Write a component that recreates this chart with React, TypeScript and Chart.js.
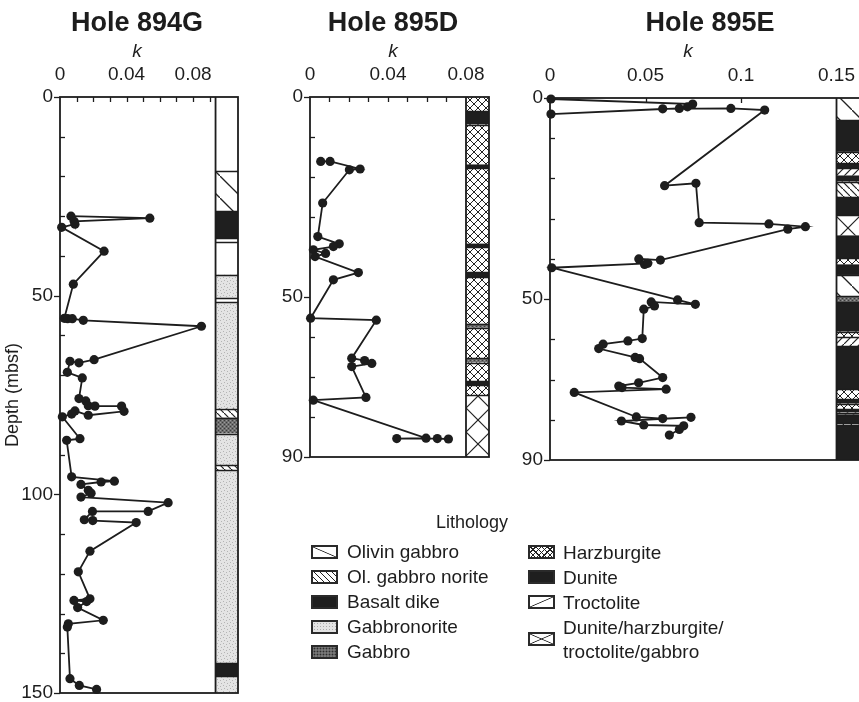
import React, { useEffect, useRef } from 'react';
import { Chart, registerables } from 'chart.js';
Chart.register(...registerables);

const FONT = "'Liberation Sans', Arial, Helvetica, sans-serif";
const INK = '#1d1d1d';

type Interval = [number, number, string];

// ---------- Hole 894G ----------
const depth894G = [30.0, 30.5, 31.3, 32.0, 32.8, 38.8, 47.1, 55.7, 55.8, 55.8, 56.2, 57.7, 66.1, 66.9, 66.5, 69.3, 70.7, 75.9, 76.5, 77.7, 77.8, 77.8, 79.1, 80.1, 79.0, 79.8, 80.5, 86.0, 86.4, 95.6, 96.7, 96.9, 97.5, 99.0, 99.7, 100.7, 102.1, 104.3, 104.3, 106.4, 106.6, 107.1, 114.3, 119.5, 126.3, 126.7, 127.0, 128.5, 131.7, 132.6, 133.4, 146.4, 148.1, 149.1];
const k894G = [0.0066, 0.054, 0.0085, 0.009, 0.001, 0.0265, 0.008, 0.0026, 0.0046, 0.0074, 0.014, 0.085, 0.0205, 0.0114, 0.006, 0.0044, 0.0134, 0.0114, 0.0155, 0.017, 0.021, 0.037, 0.0385, 0.017, 0.009, 0.007, 0.0014, 0.012, 0.004, 0.007, 0.0327, 0.0247, 0.0126, 0.017, 0.0187, 0.0126, 0.065, 0.053, 0.0195, 0.0146, 0.0197, 0.0458, 0.018, 0.011, 0.018, 0.0084, 0.016, 0.0106, 0.026, 0.005, 0.0044, 0.006, 0.0116, 0.022];
const litho894G: Interval[] = [
  [0, 18.6, 'none'], [18.6, 28.7, 'olivinGabbro'], [28.7, 35.6, 'basalt'], [35.6, 36.5, 'none'],
  [36.5, 44.7, 'none'], [44.7, 50.6, 'gabbronorite'], [50.6, 51.6, 'none'], [51.6, 78.4, 'gabbronorite'],
  [78.4, 80.7, 'olGabbroNorite'], [80.7, 84.7, 'gabbro'], [84.7, 92.7, 'gabbronorite'], [92.7, 94.0, 'olGabbroNorite'],
  [94.0, 142.5, 'gabbronorite'], [142.5, 145.8, 'basalt'], [145.8, 150, 'gabbronorite'],
];
const xLabels894G = [0, 0.04, 0.08];
const yLabels894G = [0, 50, 100, 150];

// ---------- Hole 895D ----------
const depth895D = [16.1, 16.1, 18.0, 18.2, 26.5, 34.9, 36.7, 37.4, 38.2, 39.1, 39.9, 43.9, 45.7, 55.3, 55.8, 65.3, 65.9, 66.6, 67.4, 75.1, 75.8, 85.3, 85.4, 85.4, 85.5];
const k895D = [0.0055, 0.0103, 0.0257, 0.0202, 0.0065, 0.004, 0.015, 0.012, 0.0017, 0.008, 0.0026, 0.0248, 0.012, 0.0003, 0.034, 0.0214, 0.028, 0.0317, 0.0214, 0.0287, 0.0017, 0.0595, 0.0445, 0.0653, 0.071];
const litho895D: Interval[] = [
  [0, 3.6, 'harzburgite'], [3.6, 6.9, 'dunite'], [6.9, 16.9, 'harzburgite'], [16.9, 17.8, 'dunite'],
  [17.8, 36.7, 'harzburgite'], [36.7, 37.6, 'dunite'], [37.6, 43.8, 'harzburgite'], [43.8, 45.0, 'dunite'],
  [45.0, 56.7, 'harzburgite'], [56.7, 57.7, 'gabbro'], [57.7, 65.3, 'harzburgite'], [65.3, 66.4, 'gabbro'],
  [66.4, 71.0, 'harzburgite'], [71.0, 72.0, 'dunite'], [72.0, 74.5, 'harzburgite'], [74.5, 90, 'mixed'],
];
const xLabels895D = [0, 0.04, 0.08];
const yLabels895D = [0, 50, 90];

// ---------- Hole 895E ----------
const depth895E = [0.25, 1.5, 2.2, 2.6, 4.0, 2.7, 2.6, 3.0, 21.8, 21.2, 31.0, 31.3, 32.0, 32.6, 40.3, 40.0, 41.4, 41.1, 42.2, 50.2, 51.3, 50.7, 51.7, 52.5, 59.8, 60.4, 61.2, 62.3, 64.5, 64.8, 69.5, 70.8, 71.6, 72.0, 72.4, 73.2, 79.3, 79.7, 79.4, 80.3, 81.3, 81.5, 82.4, 83.8];
const k895E = [0.0005, 0.0747, 0.072, 0.0677, 0.0005, 0.059, 0.0947, 0.1124, 0.060, 0.0764, 0.0781, 0.1146, 0.1337, 0.1245, 0.0578, 0.0465, 0.0495, 0.0512, 0.0009, 0.0668, 0.0761, 0.053, 0.0547, 0.0491, 0.0483, 0.0408, 0.0278, 0.0255, 0.0446, 0.0469, 0.059, 0.0464, 0.036, 0.0377, 0.0608, 0.0127, 0.0452, 0.059, 0.0738, 0.0374, 0.0491, 0.070, 0.0677, 0.0625];
const litho895E: Interval[] = [
  [0, 5.5, 'olivinGabbro'], [5.5, 13.4, 'dunite'], [13.4, 16.2, 'harzburgite'], [16.2, 17.5, 'dunite'],
  [17.5, 19.3, 'troctolite'], [19.3, 20.8, 'dunite'], [20.8, 24.6, 'olGabbroNorite'], [24.6, 29.2, 'dunite'],
  [29.2, 34.2, 'mixed'], [34.2, 39.9, 'dunite'], [39.9, 41.4, 'harzburgite'], [41.4, 44.0, 'dunite'],
  [44.0, 49.3, 'olivinGabbro'], [49.3, 50.7, 'gabbro'], [50.7, 58.1, 'dunite'], [58.1, 59.4, 'harzburgite'],
  [59.4, 61.7, 'troctolite'], [61.7, 72.4, 'dunite'], [72.4, 74.9, 'harzburgite'], [74.9, 76.0, 'dunite'],
  [76.0, 77.4, 'harzburgite'], [77.4, 78.2, 'dunite'], [78.2, 78.7, 'troctolite'], [78.7, 80.9, 'dunite'],
  [80.9, 81.4, 'troctolite'], [81.4, 90, 'dunite'],
];
const xLabels895E = [0, 0.05, 0.1, 0.15];
const yLabels895E = [0, 50, 90];

// ---------- Legend ----------
const legendLeft: [string, string][] = [
  ['Olivin gabbro', 'olivinGabbro'], ['Ol. gabbro norite', 'olGabbroNorite'], ['Basalt dike', 'basalt'],
  ['Gabbronorite', 'gabbronorite'], ['Gabbro', 'gabbro'],
];
const legendRight: [string, string][] = [
  ['Harzburgite', 'harzburgite'], ['Dunite', 'dunite'], ['Troctolite', 'troctolite'],
  ['Dunite/harzburgite/\ntroctolite/gabbro', 'mixed'],
];

// ---------- patterns ----------
function tile(size: number, bg: string, draw: (g: CanvasRenderingContext2D, s: number) => void) {
  const c = document.createElement('canvas');
  c.width = size; c.height = size;
  const g = c.getContext('2d')!;
  g.fillStyle = bg; g.fillRect(0, 0, size, size);
  g.strokeStyle = '#222'; g.fillStyle = '#222';
  draw(g, size);
  return c;
}
function back(g: CanvasRenderingContext2D, s: number, w: number) {
  g.lineWidth = w; g.beginPath(); g.moveTo(-2, -2); g.lineTo(s + 2, s + 2); g.stroke();
}
function fwd(g: CanvasRenderingContext2D, s: number, w: number) {
  g.lineWidth = w; g.beginPath(); g.moveTo(-2, s + 2); g.lineTo(s + 2, -2); g.stroke();
}
function dots(g: CanvasRenderingContext2D, col: string, pts: number[][]) {
  g.fillStyle = col; pts.forEach(([x, y]) => g.fillRect(x, y, 1, 1));
}
const patternCache = new Map<string, any>();
function fillFor(ctx: CanvasRenderingContext2D, type: string): any {
  if (type === 'none') return '#ffffff';
  if (type === 'basalt' || type === 'dunite') return '#1f1f1f';
  if (patternCache.has(type)) return patternCache.get(type);
  let c: HTMLCanvasElement;
  switch (type) {
    case 'olivinGabbro': c = tile(22, '#fff', (g, s) => back(g, s, 1.3)); break;
    case 'olGabbroNorite': c = tile(7, '#fff', (g, s) => back(g, s, 1.2)); break;
    case 'troctolite': c = tile(8, '#fff', (g, s) => fwd(g, s, 1.2)); break;
    case 'harzburgite': c = tile(8, '#fff', (g, s) => { back(g, s, 1); fwd(g, s, 1); }); break;
    case 'mixed': c = tile(24, '#fff', (g, s) => { back(g, s, 1.2); fwd(g, s, 1.2); }); break;
    case 'gabbronorite': c = tile(6, '#e4e4e4', (g) => dots(g, '#b5b5b5', [[1, 1], [4, 2], [2, 4], [5, 5]])); break;
    default: c = tile(4, '#6e6e6e', (g) => { dots(g, '#3c3c3c', [[0, 0], [2, 2]]); dots(g, '#9a9a9a', [[2, 0], [0, 2]]); });
  }
  const p = ctx.createPattern(c, 'repeat');
  patternCache.set(type, p);
  return p;
}

const swatchBg: Record<string, string> = {
  olivinGabbro: 'linear-gradient(to top right, #fff calc(50% - 0.8px), #222 50%, #fff calc(50% + 0.8px))',
  olGabbroNorite: 'repeating-linear-gradient(45deg, #fff 0 3px, #222 3px 4.2px)',
  basalt: '#1f1f1f',
  gabbronorite: 'radial-gradient(circle, #aaa 0.7px, transparent 1px) 0 0/3px 3px, #e2e2e2',
  gabbro: 'radial-gradient(circle, #2e2e2e 0.8px, transparent 1.1px) 0 0/3px 3px, #777',
  harzburgite: 'repeating-linear-gradient(45deg, transparent 0 3px, #222 3px 4px), repeating-linear-gradient(-45deg, #fff 0 3px, #222 3px 4px)',
  dunite: '#1f1f1f',
  troctolite: 'linear-gradient(to bottom right, #fff calc(50% - 0.8px), #222 50%, #fff calc(50% + 0.8px))',
  mixed: 'linear-gradient(to top right, transparent calc(50% - 0.8px), #222 50%, transparent calc(50% + 0.8px)), linear-gradient(to bottom right, #fff calc(50% - 0.8px), #222 50%, #fff calc(50% + 0.8px))',
};

// ---------- chart ----------
type Spec = {
  depth: number[]; k: number[]; litho: Interval[]; xLabels: number[]; yLabels: number[];
  xMax: number; yMax: number; xStep: number; colStart: number;
  left: number; w: number; h: number; yWidth: number; top: number; padRight: number; padBottom: number;
  yTitle?: string;
};

const near = (arr: number[], v: number) => arr.some((a) => Math.abs(a - v) < 1e-6);

function framePlugin(spec: Spec) {
  return {
    id: 'frameAndColumn',
    beforeDatasetsDraw(chart: any) {
      const { ctx, chartArea: ca, scales } = chart;
      const x = scales.x, y = scales.y;
      const x0 = x.getPixelForValue(spec.colStart);
      const x1 = ca.right;
      ctx.save();
      spec.litho.forEach(([from, to, type]) => {
        const y0 = y.getPixelForValue(from), y1 = y.getPixelForValue(to);
        ctx.fillStyle = fillFor(ctx, type);
        ctx.fillRect(x0, y0, x1 - x0, y1 - y0);
      });
      ctx.strokeStyle = INK;
      ctx.lineWidth = 1.5;
      spec.litho.forEach(([from]) => {
        if (from <= 0) return;
        const py = Math.round(y.getPixelForValue(from)) + 0.5;
        ctx.beginPath(); ctx.moveTo(x0, py); ctx.lineTo(x1, py); ctx.stroke();
      });
      ctx.lineWidth = 1.8;
      ctx.beginPath(); ctx.moveTo(x0, ca.top); ctx.lineTo(x0, ca.bottom); ctx.stroke();
      ctx.strokeRect(ca.left, ca.top, ca.right - ca.left, ca.bottom - ca.top);
      // tick marks
      ctx.lineWidth = 1.3;
      x.ticks.forEach((t: any) => {
        if (t.value <= 0 || t.value >= spec.colStart - 1e-6) return;
        const px = Math.round(x.getPixelForValue(t.value)) + 0.5;
        ctx.beginPath(); ctx.moveTo(px, ca.top); ctx.lineTo(px, ca.top + 5); ctx.stroke();
      });
      y.ticks.forEach((t: any) => {
        const py = Math.round(y.getPixelForValue(t.value)) + 0.5;
        ctx.beginPath();
        if (near(spec.yLabels, t.value)) { ctx.moveTo(ca.left - 6, py); ctx.lineTo(ca.left, py); }
        else { ctx.moveTo(ca.left, py); ctx.lineTo(ca.left + 5, py); }
        ctx.stroke();
      });
      ctx.restore();
    },
  };
}

function buildConfig(spec: Spec): any {
  const tickFont = { family: FONT, size: 19 };
  return {
    type: 'scatter',
    data: {
      datasets: [{
        data: spec.depth.map((d, i) => ({ x: spec.k[i], y: d })),
        showLine: true,
        borderColor: INK,
        backgroundColor: INK,
        borderWidth: 1.8,
        pointRadius: 4.6,
        pointBorderWidth: 0,
        pointHoverRadius: 4.6,
        clip: false,
      }],
    },
    options: {
      responsive: false,
      animation: false,
      events: [],
      layout: { padding: { left: 0, top: 0, right: spec.padRight, bottom: spec.padBottom } },
      plugins: { legend: { display: false }, tooltip: { enabled: false }, title: { display: false } },
      scales: {
        x: {
          type: 'linear', position: 'top', min: 0, max: spec.xMax,
          grid: { display: false, drawTicks: false }, border: { display: false },
          ticks: {
            stepSize: spec.xStep, includeBounds: false, autoSkip: false, maxRotation: 0, minRotation: 0,
            padding: 11, color: INK, font: tickFont,
            callback: (v: any) => (near(spec.xLabels, +v) && +v < spec.xMax - 0.005 ? String(+(+v).toFixed(2)) : ''),
          },
          afterFit: (s: any) => { s.height = spec.top; },
        },
        y: {
          type: 'linear', reverse: true, min: 0, max: spec.yMax,
          grid: { display: false, drawTicks: false }, border: { display: false },
          ticks: {
            stepSize: 10, autoSkip: false, padding: 7, color: INK, font: tickFont,
            callback: (v: any) => (near(spec.yLabels, +v) ? String(v) : ''),
          },
          title: spec.yTitle
            ? { display: true, text: spec.yTitle, color: INK, font: { family: FONT, size: 18 }, padding: { top: 2, bottom: 0 } }
            : { display: false },
          afterFit: (s: any) => { s.width = spec.yWidth; },
        },
      },
    },
    plugins: [framePlugin(spec)],
  };
}

const specs: Spec[] = [
  {
    depth: depth894G, k: k894G, litho: litho894G, xLabels: xLabels894G, yLabels: yLabels894G,
    xMax: 0.107, yMax: 150, xStep: 0.01, colStart: 0.0935,
    left: 0, w: 255, h: 720, yWidth: 60, top: 97, padRight: 17, padBottom: 27, yTitle: 'Depth (mbsf)',
  },
  {
    depth: depth895D, k: k895D, litho: litho895D, xLabels: xLabels895D, yLabels: yLabels895D,
    xMax: 0.0918, yMax: 90, xStep: 0.01, colStart: 0.08,
    left: 250, w: 260, h: 702, yWidth: 60, top: 97, padRight: 21, padBottom: 245,
  },
  {
    depth: depth895E, k: k895E, litho: litho895E, xLabels: xLabels895E, yLabels: yLabels895E,
    xMax: 0.1623, yMax: 90, xStep: 0.05, colStart: 0.15,
    left: 500, w: 380, h: 702, yWidth: 50, top: 98, padRight: 20, padBottom: 242,
  },
];

function Panel({ spec }: { spec: Spec }) {
  const ref = useRef<HTMLCanvasElement>(null);
  useEffect(() => {
    const chart = new Chart(ref.current as HTMLCanvasElement, buildConfig(spec));
    return () => chart.destroy();
  }, [spec]);
  return (
    <canvas
      ref={ref}
      width={spec.w}
      height={spec.h}
      style={{ position: 'absolute', left: spec.left, top: 0, width: spec.w, height: spec.h }}
    />
  );
}

const titles: [string, number][] = [['Hole 894G', 137], ['Hole 895D', 393], ['Hole 895E', 710]];
const kCenters = [137, 393, 688];

function Swatch({ type, top, left }: { type: string; top: number; left: number }) {
  return (
    <div style={{
      position: 'absolute', left, top, width: 27, height: 14, boxSizing: 'border-box',
      border: '2px solid #2a2a2a', background: swatchBg[type],
    }} />
  );
}

export default function App() {
  return (
    <div style={{
      position: 'absolute', left: 0, top: 0, width: 859, height: 702, overflow: 'hidden',
      background: '#fff', fontFamily: FONT, color: INK,
    }}>
      {specs.map((s, i) => <Panel key={i} spec={s} />)}
      {titles.map(([t, cx]) => (
        <div key={t} style={{
          position: 'absolute', left: cx - 120, width: 240, top: 9, textAlign: 'center',
          fontSize: 27, fontWeight: 'bold', lineHeight: '27px', whiteSpace: 'nowrap',
        }}>{t}</div>
      ))}
      {kCenters.map((cx, i) => (
        <div key={i} style={{
          position: 'absolute', left: cx - 20, width: 40, top: 41, textAlign: 'center',
          fontSize: 19, fontStyle: 'italic', lineHeight: '19px',
        }}>k</div>
      ))}
      <div style={{
        position: 'absolute', left: 372, width: 200, top: 511, textAlign: 'center', fontSize: 18, lineHeight: '22px',
      }}>Lithology</div>
      {legendLeft.map(([label, type], i) => (
        <React.Fragment key={label}>
          <Swatch type={type} left={311} top={545 + i * 25} />
          <div style={{ position: 'absolute', left: 347, top: 541 + i * 25, fontSize: 19, lineHeight: '22px', whiteSpace: 'nowrap' }}>{label}</div>
        </React.Fragment>
      ))}
      {legendRight.map(([label, type], i) => {
        const lines = label.split('\n');
        const twoLine = lines.length > 1;
        return (
          <React.Fragment key={label}>
            <Swatch type={type} left={528} top={twoLine ? 545 + i * 25 + 12 : 545 + i * 25} />
            <div style={{ position: 'absolute', left: 563, top: 541 + i * 25, fontSize: 19, lineHeight: '24px', whiteSpace: 'nowrap' }}>
              {lines.map((l, j) => <div key={j}>{l}</div>)}
            </div>
          </React.Fragment>
        );
      })}
    </div>
  );
}
